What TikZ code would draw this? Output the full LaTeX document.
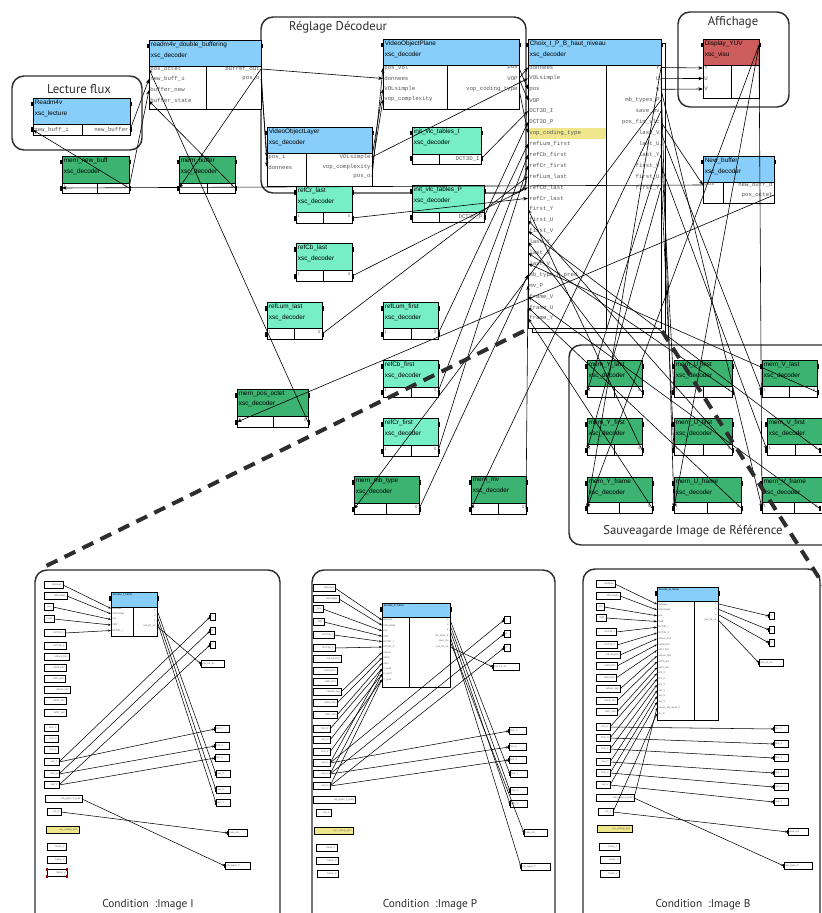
\documentclass[tikz,border=0pt]{standalone}
\usepackage{fontspec}
\setmainfont{Liberation Sans}
\setmonofont{Liberation Mono}
\newfontfamily\grpfont{PT Sans}
\usetikzlibrary{arrows.meta}
\definecolor{blueH}{RGB}{135,206,250}
\definecolor{greenD}{RGB}{60,179,113}
\definecolor{greenL}{RGB}{118,238,198}
\definecolor{redH}{RGB}{205,92,92}
\definecolor{yelH}{RGB}{240,230,140}
\definecolor{grpC}{RGB}{45,45,45}
\definecolor{labC}{RGB}{85,85,85}
\tikzset{
 bxline/.style={draw=black, line width=0.6pt},
 btitle/.style={anchor=north west, inner xsep=1.2pt, inner ysep=1.2pt, align=left, font=\fontsize{4.8}{8.2}\selectfont},
 plab/.style={inner sep=0.8pt, font=\ttfamily\fontsize{4.3}{4.3}\selectfont, text=labC},
 grp/.style={draw=grpC, line width=1.1pt, rounded corners=9pt},
 gtitle/.style={font=\grpfont\fontsize{9.5}{11}\selectfont, text=grpC},
 ctitle/.style={font=\grpfont\fontsize{8.5}{10}\selectfont, text=grpC},
 cn/.style={draw=black, line width=0.45pt, -{Stealth[length=3.5pt,width=2.6pt]}},
 bigdash/.style={draw=grpC, line width=3pt, dash pattern=on 9pt off 6pt},
 smline/.style={draw=black, line width=0.35pt, fill=white},
 stxt/.style={inner sep=0.3pt, font=\fontsize{1.8}{2}\selectfont, text=labC},
 scn/.style={draw=black, line width=0.4pt, -{Stealth[length=2.2pt,width=1.6pt]}},
 gtiny/.style={inner sep=0.3pt, font=\fontsize{3}{3}\selectfont, text=labC},
}
% block: id, x1, y1, x2, yh, y2, xs, colour, text
\newcommand\blk[9]{%
  \fill[#8] (#2,#3) rectangle (#4,#5);
  \fill[white] (#2,#5) rectangle (#4,#6);
  \draw[bxline] (#2,#3) rectangle (#4,#6) (#2,#5) -- (#4,#5) (#7,#5) -- (#7,#6);
  \node[btitle] (#1) at (#2,#3) {#9};
  \fill (#2-1.6,#3+4) rectangle (#2+0.3,#3+8.5);
  \fill (#4-0.3,#3+4) rectangle (#4+1.6,#3+8.5);
}
% ports of the large blocks
\newcommand\lp[4]{\coordinate (#1) at (#2,#3); \node[plab,anchor=west] (#1t) at (#2,#3) {#4};}
\newcommand\rp[4]{\coordinate (#1) at (#2,#3); \node[plab,anchor=east] (#1t) at (#2,#3) {#4};}
% ports of the small blocks
\newcommand\slp[4]{\coordinate (#1) at (#2,#3); \node[stxt,anchor=west] (#1t) at (#2+0.8,#3) {#4};}
\newcommand\srp[4]{\coordinate (#1) at (#2,#3); \node[stxt,anchor=east] (#1t) at (#2-0.8,#3) {#4};}
% in / out port markers only: id, x1, x2, y
\newcommand\pmark[4]{%
  \coordinate (#1I) at (#2,#4); \coordinate (#1O) at (#3,#4);
  \fill (#2-1.6,#4-2.5) rectangle (#2+0.3,#4+2.5);
  \fill (#3-0.3,#4-2.5) rectangle (#3+1.6,#4+2.5);
}
% in / out ports of memory blocks: id, x1, x2, y
\newcommand\gport[4]{%
  \pmark{#1}{#2}{#3}{#4}
  \node[gtiny,anchor=west] (#1i) at (#2+1,#4-1.5) {1};
  \node[gtiny,anchor=east] (#1o) at (#3-1,#4-1.5) {0};
}
% small boxes of the bottom panels
\newcommand\sml[5]{%
  \draw[smline] (#2,#4-3.4) rectangle (#3,#4+3.4);
  \node[stxt,anchor=east] (#1t) at (#3-0.8,#4) {#5};
  \coordinate (#1w) at (#2,#4); \coordinate (#1e) at (#3,#4);
  \fill (#3-0.2,#4-2.3) rectangle (#3+1,#4+2.3);}
\newcommand\smr[5]{%
  \draw[smline] (#2,#4-3.4) rectangle (#3,#4+3.4);
  \node[stxt,anchor=west] (#1t) at (#2+0.8,#4) {#5};
  \coordinate (#1w) at (#2,#4); \coordinate (#1e) at (#3,#4);
  \fill (#2-1,#4-2.3) rectangle (#2+0.2,#4+2.3);}
\begin{document}
\begin{tikzpicture}[x=0.75pt,y=-0.75pt]
\useasboundingbox (0,0) rectangle (821,913);
\fill[white] (0,0) rectangle (821,913);
% ---------------- groups
\draw[grp] (12,76) rectangle (142,150);
\node[gtitle] (gLec) at (79,89) {Lecture flux};
\draw[grp] (261,17) rectangle (526,193);
\node[gtitle] (gReg) at (338,27) {Réglage Décodeur};
\draw[grp] (678,12) rectangle (789,107);
\node[gtitle] (gAff) at (733,22) {Affichage};
\draw[grp] (569,345) rectangle (845,545);
\node[gtitle] (gSav) at (693,531) {Sauveagarde Image de Référence};
% ---------------- blocks
\blk{rd}{33}{98}{130}{124}{135}{82}{blueH}{Readm4v\\xsc\_lecture}
\blk{db}{149}{40}{261}{66}{109}{206}{blueH}{readm4v\_double\_buffering\\xsc\_decoder}
\blk{mnb}{62}{156}{129}{183}{193}{97}{greenD}{mem\_new\_buff\\xsc\_decoder}
\blk{mb}{179}{156}{235}{183}{193}{207}{greenD}{mem\_buffer\\xsc\_decoder}
\blk{vop}{383}{39}{519}{65}{109}{447}{blueH}{VideoObjectPlane\\xsc\_decoder}
\blk{vol}{267}{127}{372}{153}{186}{306}{blueH}{VideoObjectLayer\\xsc\_decoder}
\blk{ivI}{412}{127}{481}{154}{164}{439}{greenL}{init\_vlc\_tables\_I\\xsc\_decoder}
\blk{ivP}{412}{185}{484}{212}{222}{439}{greenL}{init\_vlc\_tables\_P\\xsc\_decoder}
\blk{rcl}{296}{186}{352}{212}{223}{323}{greenL}{refCr\_last\\xsc\_decoder}
\blk{rbl}{296}{243}{352}{270}{281}{323}{greenL}{refCb\_last\\xsc\_decoder}
\blk{rll}{267}{302}{322}{328}{339}{294}{greenL}{refLum\_last\\xsc\_decoder}
\blk{rlf}{383}{302}{438}{328}{339}{411}{greenL}{refLum\_first\\xsc\_decoder}
\blk{rbf}{383}{360}{438}{387}{397}{411}{greenL}{refCb\_first\\xsc\_decoder}
\blk{rcf}{383}{418}{438}{445}{456}{411}{greenL}{refCr\_first\\xsc\_decoder}
\blk{mpo}{237}{389}{308}{416}{427}{273}{greenD}{mem\_pos\_octet\\xsc\_decoder}
\blk{mmt}{354}{476}{419}{503}{514}{386}{greenD}{mem\_mb\_type\\xsc\_decoder}
\blk{mmv}{471}{476}{526}{503}{514}{498}{greenD}{mem\_mv\\xsc\_decoder}
\draw[bxline] (661,43) -- (665,43) -- (665,332) -- (532,332) -- (532,328);
\blk{ch}{528}{39}{661}{65}{328}{606}{blueH}{Choix\_I\_P\_B\_haut\_niveau\\xsc\_decoder}
\fill[yelH] (528.5,128) rectangle (605.6,139);
\blk{dy}{703}{39}{759}{65}{98}{731}{redH}{Display\_YUV\\xsc\_visu}
\blk{nb}{703}{156}{774}{182}{203}{723}{blueH}{New\_buffer\\xsc\_decoder}
\blk{myl}{587}{360}{642}{386}{397}{614}{greenD}{mem\_Y\_last\\xsc\_decoder}
\blk{mul}{674}{360}{732}{386}{397}{703}{greenD}{mem\_U\_last\\xsc\_decoder}
\blk{mvl}{762}{360}{817}{386}{397}{789}{greenD}{mem\_V\_last\\xsc\_decoder}
\blk{myf}{587}{418}{642}{444}{455}{614}{greenD}{mem\_Y\_first\\xsc\_decoder}
\blk{muf}{674}{418}{732}{444}{455}{703}{greenD}{mem\_U\_first\\xsc\_decoder}
\blk{mvf}{767}{418}{822}{444}{455}{795}{greenD}{mem\_V\_first\\xsc\_decoder}
\blk{myr}{587}{477}{652}{502}{513}{619}{greenD}{mem\_Y\_frame\\xsc\_decoder}
\blk{mur}{674}{477}{741}{502}{513}{707}{greenD}{mem\_U\_frame\\xsc\_decoder}
\blk{mvr}{762}{477}{822}{502}{513}{794}{greenD}{mem\_V\_frame\\xsc\_decoder}
% ---------------- ports
\lp{rdI}{33}{130}{new\_buff\_i} \rp{rdO}{130}{130}{new\_buffer}
\fill (31.4,127.5) rectangle (33.3,132.5); \fill (129.7,127.5) rectangle (131.6,132.5);
\lp{dbL1}{149}{69}{pos\_octet} \lp{dbL2}{149}{79}{new\_buff\_i}
\lp{dbL3}{149}{90}{buffer\_new} \lp{dbL4}{149}{101}{buffer\_state}
\rp{dbR1}{261}{69}{buffer\_out} \rp{dbR2}{261}{79}{pos\_o}
\lp{vopL1}{383}{68}{pos\_vol} \lp{vopL2}{383}{78.5}{donnees}
\lp{vopL3}{383}{89}{VOLsimple} \lp{vopL4}{383}{99.5}{vop\_complexity}
\rp{vopR1}{519}{68}{pos} \rp{vopR2}{519}{78.5}{VOP} \rp{vopR3}{519}{89}{vop\_coding\_type}
\lp{volL1}{267}{157}{pos\_i} \lp{volL2}{267}{167}{donnees}
\rp{volR1}{372}{157}{VOLsimple} \rp{volR2}{372}{167}{vop\_complexity} \rp{volR3}{372}{177}{pos\_o}
\rp{ivIO}{481}{159}{DCT3D\_I} \rp{ivPO}{484}{217}{DCT3D\_P}
\foreach \lab [count=\i] in {donnees,VOLsimple,pos,VOP,DCT3D\_I,DCT3D\_P,vop\_coding\_type,refLum\_first,refCb\_first,refCr\_first,refLum\_last,refCb\_last,refCr\_last,first\_Y,first\_U,first\_V,last\_Y,last\_U,last\_V,mb\_type\_P\_pred,mv\_P,frame\_V,frame\_U,frame\_Y}
  {\lp{chL\i}{528}{56.6+10.9*\i}{\lab}}
\foreach \lab [count=\i] in {Y,U,V,mb\_types\_P,save\_mv,pos\_fin\_vlc,last\_V,last\_U,last\_Y,first\_V,first\_U,first\_Y}
  {\rp{chR\i}{661}{56.6+10.9*\i}{\lab}}
\lp{dyY}{703}{68}{Y} \lp{dyU}{703}{78.5}{U} \lp{dyV}{703}{89}{V}
\coordinate (dyNE) at (759,45);
\lp{nbP}{703}{185}{pos} \rp{nbO1}{774}{185}{new\_buff\_o} \rp{nbO2}{774}{195}{pos\_octet}
\gport{mnb}{62}{129}{188} \gport{mb}{179}{235}{188}
\pmark{ivIp}{412}{481}{159} \pmark{ivPp}{412}{484}{217}
\gport{rcl}{296}{352}{218} \gport{rbl}{296}{352}{276} \gport{rll}{267}{322}{334}
\gport{rlf}{383}{438}{334} \gport{rbf}{383}{438}{392} \gport{rcf}{383}{438}{451}
\gport{mpo}{237}{308}{422} \gport{mmt}{354}{419}{509} \gport{mmv}{471}{526}{509}
\gport{myl}{587}{642}{392} \gport{mul}{674}{732}{392} \gport{mvl}{762}{817}{392}
\gport{myf}{587}{642}{450} \gport{muf}{674}{732}{450} \gport{mvf}{767}{819}{450}
\gport{myr}{587}{652}{508} \gport{mur}{674}{741}{508} \gport{mvr}{762}{819}{508}
% ---------------- connectors (top)
\draw[cn] (rdO) -- (dbL2);
\draw[cn] (mnbO) -- (dbL3);
\draw[cn] (mnbO) -- (rdI);
\draw[cn] (mbO) -- (dbL4);
\draw[cn] (dbR1) -- (mbI);
\draw[cn] (mpoO) -- (dbL1);
\draw[cn] (dbR1) -- (vopL2);
\draw[cn] (dbR1) -- (volL2);
\draw[cn] (dbR2) -- (volL1);
\draw[cn] (volR1) -- (vopL3);
\draw[cn] (volR2) -- (vopL4);
\draw[cn] (volR3) -- (vopL1);
\draw[cn] (volR1) -- (chL2);
\draw[cn] (vopR1) -- (chL3);
\draw[cn] (vopR2) -- (chL4);
\draw[cn] (vopR3) -- (chL7);
\draw[cn] (vopR2) -- (chL1);
\draw[cn] (ivIO) -- (chL5);
\draw[cn] (ivPO) -- (chL6);
\draw[cn] (rlfO) -- (chL8);
\draw[cn] (rbfO) -- (chL9);
\draw[cn] (rcfO) -- (chL10);
\draw[cn] (rllO) -- (chL11);
\draw[cn] (rblO) -- (chL12);
\draw[cn] (rclO) -- (chL13);
\draw[cn] (myfO) -- (chL14);
\draw[cn] (mufO) -- (chL15);
\draw[cn] (mvfO) -- (chL16);
\draw[cn] (mylO) -- (chL17);
\draw[cn] (mulO) -- (chL18);
\draw[cn] (mvlO) -- (chL19);
\draw[cn] (mmtO) -- (chL20);
\draw[cn] (mmvO) -- (chL21);
\draw[cn] (mvrO) -- (chL22);
\draw[cn] (murO) -- (chL23);
\draw[cn] (myrO) -- (chL24);
\draw[cn] (chR1) -- (dyY);
\draw[cn] (chR2) -- (dyU);
\draw[cn] (chR3) -- (dyV);
\draw[cn] (chR4) -- (mmtI);
\draw[cn] (chR5) -- (mmvI);
\draw[cn] (chR6) -- (nbP);
\draw[cn] (chR7) -- (mvlI);
\draw[cn] (chR8) -- (mulI);
\draw[cn] (chR9) -- (mylI);
\draw[cn] (chR10) -- (mvfI);
\draw[cn] (chR11) -- (mufI);
\draw[cn] (chR12) -- (myfI);
\draw[cn] (dyNE) -- (myrI);
\draw[cn] (dyNE) -- (murI);
\draw[cn] (dyNE) -- (mvrI);
\draw[cn] (nbO2) -- (mpoI);
\draw[cn] (nbP) -- (mnbI);
\draw[cn] (chR1) -- (myrI);
\draw[cn] (chR2) -- (murI);
\draw[cn] (chR3) -- (mvrI);
% ================= bottom panels
\draw[grp] (35,570) rectangle (280,935);
\node[ctitle] (tI) at (148,905) {Condition \ :Image I};
\draw[grp] (312,570) rectangle (555,935);
\node[ctitle] (tP) at (430,905) {Condition \ :Image P};
\draw[grp] (583,569) rectangle (820,935);
\node[ctitle] (tB) at (703,905) {Condition \ :Image B};
% ---- panel I
\foreach \lab/\xa/\xb/\yy [count=\i] in {donnees/44/63/585, VOLsimple/44/67/596, pos/44/53/607, VOP/44/54/619, DCT3D\_I/44/65/633, DCT3D\_P/44/66/646, refLum\_first/44/69/657, refCb\_first/44/66/668, refCr\_first/44/65/679, refLum\_last/44/70/690, refCb\_last/44/66/701, refCr\_last/44/66/713, first\_Y/44/58/728, first\_U/44/58/739, first\_V/44/58/750, last\_Y/44/59/762, last\_U/44/59/774, last\_V/44/59/785, mb\_types\_P\_pred/45/82/799, mv\_P/47/61/812, frame\_Y/47/66/847, frame\_U/47/66/860, frame\_V/47/67/873}
  {\sml{aL\i}{\xa}{\xb}{\yy}{\lab}}
\draw[smline,fill=yelH] (46,826.5) rectangle (79,833.5);
\node[stxt,anchor=east] (aVct) at (78,830) {vop\_coding\_type};
\foreach \px/\py in {47/869.6,67/869.6,47/876.4,67/876.4} {\fill[red!60!black] (\px-1.3,\py-1.3) rectangle (\px+1.3,\py+1.3);}
\blk{dI}{111}{592}{157}{607}{636}{133}{blueH}{\fontsize{2}{2.5}\selectfont decode\_I\_frame}
\foreach \lab [count=\i] in {donnees,VOLsimple,pos,VOP,DCT3D\_I}
  {\slp{dIL\i}{111}{603+5.5*\i}{\lab}}
\foreach \lab [count=\i] in {Y,U,V,pos\_fin\_vlc}
  {\srp{dIR\i}{157}{605+5.3*\i}{\lab}}
\smr{aY}{210}{215}{617}{Y} \smr{aU}{210}{215}{631}{U} \smr{aV}{210}{215}{645}{V}
\smr{aPf}{201}{224}{664}{pos\_fin\_vlc}
\smr{aFY}{215}{229}{729}{first\_Y} \smr{aFU}{215}{229}{746}{first\_U} \smr{aFV}{215}{229}{758}{first\_V}
\smr{aLY}{216}{230}{774}{last\_Y} \smr{aLU}{216}{230}{790}{last\_U} \smr{aLV}{216}{230}{803}{last\_V}
\smr{aSm}{228}{247}{833}{save\_mv}
\smr{aMb}{225}{250}{866}{mb\_types\_P}
\foreach \i in {1,...,5} {\draw[scn] (aL\i e) -- (dIL\i);}
\draw[scn] (dIR1) -- (aLYw); \draw[scn] (dIR2) -- (aLUw); \draw[scn] (dIR3) -- (aLVw);
\draw[scn] (dIR4) -- (aPfw);
\draw[scn] (aL16e) -- (aYw); \draw[scn] (aL17e) -- (aUw); \draw[scn] (aL18e) -- (aVw);
\draw[scn] (aL16e) -- (aFYw); \draw[scn] (aL17e) -- (aFUw); \draw[scn] (aL18e) -- (aFVw);
\draw[scn] (aL19e) -- (aMbw); \draw[scn] (aL20e) -- (aSmw);
% ---- panel P
\foreach \lab/\xa/\xb/\yy [count=\i] in {donnees/313/335/588, VOLsimple/313/339/599, pos/313/323/609, VOP/313/324/622, DCT3D\_I/313/334/635, DCT3D\_P/313/335/648, refLum\_first/313/341/659, refCb\_first/313/337/671, refCr\_first/313/337/682, refLum\_last/313/341/692, refCb\_last/313/337/703, refCr\_last/313/337/715, first\_Y/313/330/729, first\_U/313/330/740, first\_V/313/330/752, last\_Y/313/330/763, last\_U/313/330/774, last\_V/313/330/786, mb\_types\_P\_pred/313/355/800, mv\_P/316/331/813, frame\_Y/316/337/848, frame\_U/316/338/861, frame\_V/317/338/874}
  {\sml{bL\i}{\xa}{\xb}{\yy}{\lab}}
\draw[smline,fill=yelH] (314,827.5) rectangle (353,834.5);
\node[stxt,anchor=east] (bVct) at (352,831) {vop\_coding\_type};
\blk{dP}{382}{603}{450}{617}{687}{409}{blueH}{\fontsize{2}{2.5}\selectfont decode\_P\_frame}
\foreach \lab [count=\i] in {donnees,VOLsimple,pos,VOP,DCT3D\_I,DCT3D\_P,refLum,refCb,refCr,Y\_pred,U\_pred,V\_pred}
  {\slp{dPL\i}{382}{614.6+5.4*\i}{\lab}}
\foreach \lab/\yy [count=\i] in {Y/620,U/625,V/630,mb\_types\_P/636,save\_mv/641,pos\_fin\_vlc/647}
  {\srp{dPR\i}{450}{\yy}{\lab}}
\smr{bY}{504}{510}{620}{Y} \smr{bU}{504}{510}{634}{U} \smr{bV}{504}{510}{648}{V}
\smr{bPf}{493}{519}{667}{pos\_fin\_vlc}
\smr{bFY}{509}{526}{731}{first\_Y} \smr{bFU}{509}{526}{747}{first\_U} \smr{bFV}{509}{526}{760}{first\_V}
\smr{bLY}{510}{527}{774}{last\_Y} \smr{bLU}{510}{527}{791}{last\_U} \smr{bLV}{510}{527}{804}{last\_V}
\smr{bSm}{524}{547}{833}{save\_mv}
\smr{bMb}{521}{550}{867}{mb\_types\_P}
\foreach \i in {1,...,6} {\draw[scn] (bL\i e) -- (dPL\i);}
\draw[scn] (bL10e) -- (dPL7); \draw[scn] (bL11e) -- (dPL8); \draw[scn] (bL12e) -- (dPL9);
\draw[scn] (bL13e) -- (dPL10); \draw[scn] (bL14e) -- (dPL11); \draw[scn] (bL15e) -- (dPL12);
\draw[scn] (bL16e) -- (dPL10); \draw[scn] (bL17e) -- (dPL11); \draw[scn] (bL18e) -- (dPL12);
\draw[scn] (bL16e) -- (bYw); \draw[scn] (bL17e) -- (bUw); \draw[scn] (bL18e) -- (bVw);
\draw[scn] (bL16e) -- (bFYw); \draw[scn] (bL17e) -- (bFUw); \draw[scn] (bL18e) -- (bFVw);
\draw[scn] (dPR1) -- (bLYw); \draw[scn] (dPR2) -- (bLUw); \draw[scn] (dPR3) -- (bLVw);
\draw[scn] (dPR4) -- (bMbw); \draw[scn] (dPR5) -- (bSmw); \draw[scn] (dPR6) -- (bPfw);
% ---- panel B
\foreach \lab/\xa/\xb/\yy [count=\i] in {donnees/596/615/584, VOLsimple/596/620/596, pos/596/604/607, VOP/596/606/618, DCT3D\_I/596/616/632, DCT3D\_P/596/617/645, refLum\_first/596/620/655, refCb\_first/596/617/666, refCr\_first/596/616/678, refLum\_last/596/620/689, refCb\_last/596/617/701, refCr\_last/596/617/712, first\_Y/596/610/727, first\_U/596/610/738, first\_V/596/610/749, last\_Y/596/610/762, last\_U/596/610/773, last\_V/596/610/785, mb\_types\_P\_pred/596/634/798, mv\_P/598/613/812, frame\_Y/599/619/847, frame\_U/600/620/860, frame\_V/600/619/874}
  {\sml{cL\i}{\xa}{\xb}{\yy}{\lab}}
\draw[smline,fill=yelH] (597,825.5) rectangle (632,832.5);
\node[stxt,anchor=east] (cVct) at (631,829) {vop\_coding\_type};
\blk{dB}{657}{587}{718}{601}{720}{694}{blueH}{\fontsize{2}{2.5}\selectfont decode\_B\_frame}
\foreach \lab [count=\i] in {donnees,VOLsimple,pos,VOP,DCT3D\_I,DCT3D\_P,refLum\_first,refCb\_first,refCr\_first,refLum\_last,refCb\_last,refCr\_last,first\_Y,first\_U,first\_V,last\_Y,last\_U,last\_V,ancien\_mb\_types\_P,mv\_P}
  {\slp{dBL\i}{657}{598.5+5.75*\i}{\lab}}
\foreach \lab [count=\i] in {Y,U,V,pos\_fin\_vlc}
  {\srp{dBR\i}{718}{598.5+5.3*\i}{\lab}}
\smr{cY}{769}{774}{616}{Y} \smr{cU}{769}{774}{630}{U} \smr{cV}{769}{774}{643}{V}
\smr{cPf}{759}{783}{663}{pos\_fin\_vlc}
\smr{cFY}{774}{788}{729}{first\_Y} \smr{cFU}{774}{788}{744}{first\_U} \smr{cFV}{774}{788}{758}{first\_V}
\smr{cLY}{774}{788}{773}{last\_Y} \smr{cLU}{774}{788}{787}{last\_U} \smr{cLV}{774}{788}{802}{last\_V}
\smr{cSm}{788}{808}{832}{save\_mv}
\smr{cMb}{784}{812}{866}{mb\_types\_P}
\foreach \i in {1,...,20} {\draw[scn] (cL\i e) -- (dBL\i);}
\draw[scn] (dBR1) -- (cYw); \draw[scn] (dBR2) -- (cUw); \draw[scn] (dBR3) -- (cVw);
\draw[scn] (dBR4) -- (cPfw);
\draw[scn] (cL13e) -- (cFYw); \draw[scn] (cL14e) -- (cFUw); \draw[scn] (cL15e) -- (cFVw);
\draw[scn] (cL16e) -- (cLYw); \draw[scn] (cL17e) -- (cLUw); \draw[scn] (cL18e) -- (cLVw);
\draw[scn] (cL19e) -- (cMbw); \draw[scn] (cL20e) -- (cSmw);
% ---------------- zoom dashes
\coordinate (zA1) at (524,331); \coordinate (zA2) at (40,569);
\coordinate (zB1) at (662,331); \coordinate (zB2) at (828,592);
\draw[bigdash] (zA1) -- (zA2);
\draw[bigdash] (zB1) -- (zB2);
\end{tikzpicture}
\end{document}
